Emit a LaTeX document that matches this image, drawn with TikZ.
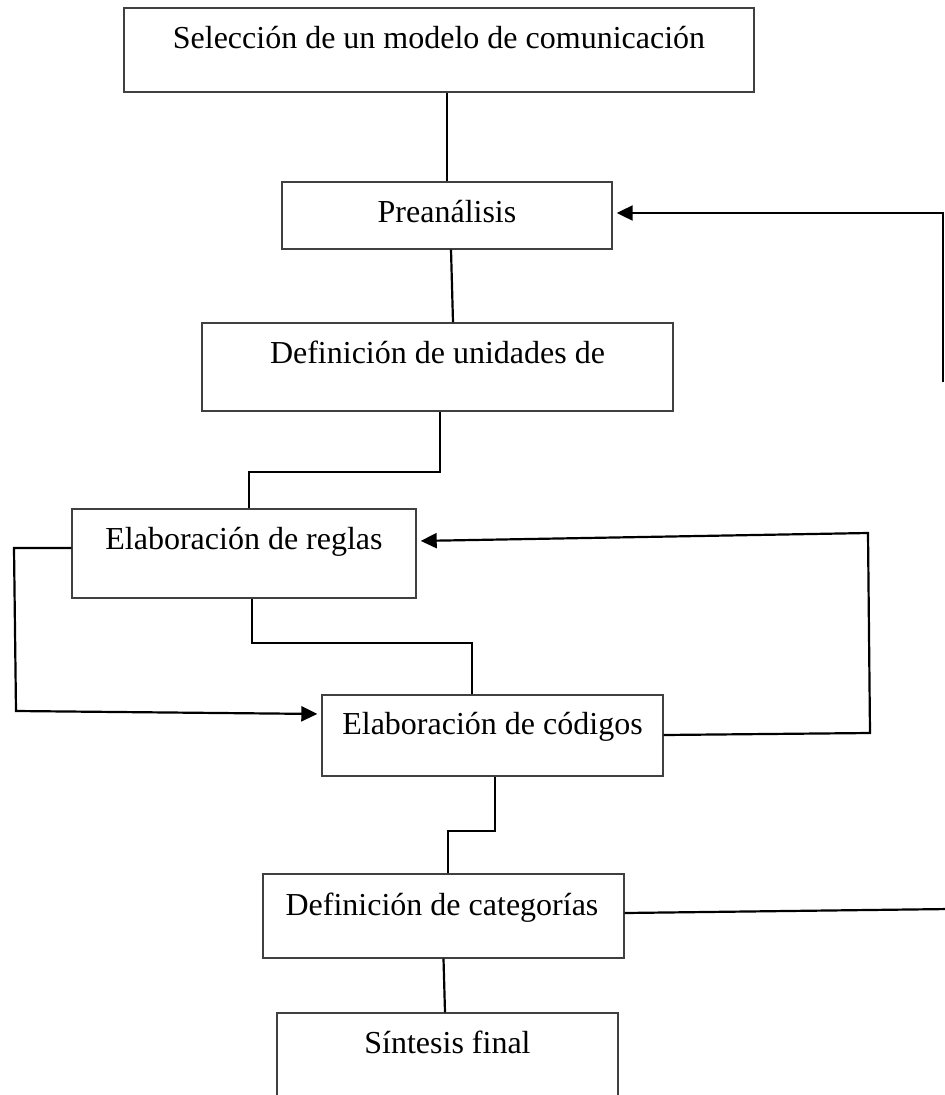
\documentclass[tikz,border=0pt]{standalone}
\usepackage{fontspec}
\setmainfont{Liberation Serif}
\usetikzlibrary{arrows.meta}
\begin{document}
\begin{tikzpicture}[x=1pt,y=-1pt,
  box/.style={draw=black!75, line width=1.4pt, inner sep=0pt, fill=none},
  lbl/.style={anchor=base, inner sep=0pt, font=\fontsize{32}{38}\selectfont},
  conn/.style={draw=black, line width=2.2pt},
  arr/.style={conn, -{Triangle[length=16pt,width=15pt]}, shorten >=4pt}]
\clip (0,0) rectangle (945,1095);
\fill[white] (0,0) rectangle (945,1095);
% boxes
\node[box, minimum width=630pt, minimum height=84pt] (b1) at (439,50) {};
\node[box, minimum width=330pt, minimum height=67pt] (b2) at (447,215.5) {};
\node[box, minimum width=471pt, minimum height=88pt] (b3) at (437.5,367) {};
\node[box, minimum width=344pt, minimum height=89pt] (b4) at (244,553.5) {};
\node[box, minimum width=341pt, minimum height=81pt] (b5) at (492.5,735.5) {};
\node[box, minimum width=361pt, minimum height=84pt] (b6) at (443.5,916) {};
\node[box, minimum width=341pt, minimum height=100pt] (b7) at (447.5,1063) {};
% texts
\node[lbl] (t1) at (439,48) {Selección de un modelo de comunicación};
\node[lbl] (t2) at (447,222) {Preanálisis};
\node[lbl] (t3) at (437.5,363) {Definición de unidades de};
\node[lbl] (t4) at (244,549) {Elaboración de reglas};
\node[lbl] (t5) at (492.5,734) {Elaboración de códigos};
\node[lbl] (t6) at (442,915) {Definición de categorías};
\node[lbl] (t7) at (447.5,1053) {Síntesis final};
% bend points
\coordinate (k3) at (249,472);
\coordinate (k4) at (472,643);
\coordinate (k5) at (448,831);
\coordinate (l1) at (14,548);
\coordinate (l2) at (16,711);
\coordinate (r1) at (870,733);
\coordinate (r2) at (868,533);
\coordinate (q1) at (943,382);
\coordinate (q2) at (943,213);
\coordinate (q3) at (950,909);
% main chain
\draw[conn] (b2.north) -- (b2.north |- b1.south);
\draw[conn] ([xshift=4pt]b2.south) -- ([xshift=15.5pt]b3.north);
\draw[conn] ([xshift=2.5pt]b3.south) |- (k3) -- (k3 |- b4.north);
\draw[conn] ([xshift=8pt]b4.south) |- (k4) -- (k4 |- b5.north);
\draw[conn] ([xshift=2.5pt]b5.south) |- (k5) -- (k5 |- b6.north);
\draw[conn] (b6.south) -- ([xshift=-2.5pt]b7.north);
% loops
\draw[arr] ([yshift=5.5pt]b4.west) -- (l1) -- (l2) -- ([yshift=21.5pt]b5.west);
\draw[arr] ([yshift=0.5pt]b5.east) -- (r1) -- (r2) -- ([yshift=12.5pt]b4.east);
\draw[arr] (q1) -- (q2) -- ([yshift=2.5pt]b2.east);
\draw[conn] ([yshift=3pt]b6.east) -- (q3);
\end{tikzpicture}
\end{document}
